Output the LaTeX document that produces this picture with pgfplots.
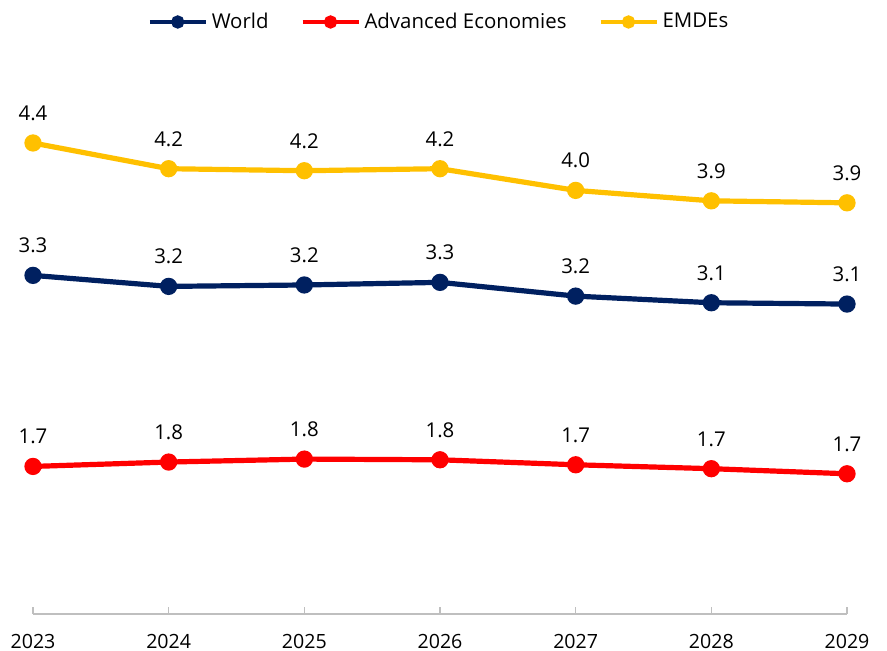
\documentclass[border=0pt]{standalone}
\usepackage{fontspec}
\setmainfont{Open Sans}
\usepackage{pgfplots}
\usepackage{pgfplotstable}
\pgfplotsset{compat=1.18}
\definecolor{world}{HTML}{002060}
\definecolor{adv}{HTML}{FF0000}
\definecolor{emde}{HTML}{FFC000}
\pgfplotstableread{
year val lab
2023 3.327 3.3
2024 3.234 3.2
2025 3.246 3.2
2026 3.268 3.3
2027 3.152 3.2
2028 3.096 3.1
2029 3.085 3.1
}\worlddata
\pgfplotstableread{
year val lab
2023 1.715 1.7
2024 1.752 1.8
2025 1.777 1.8
2026 1.771 1.8
2027 1.729 1.7
2028 1.696 1.7
2029 1.653 1.7
}\advdata
\pgfplotstableread{
year val lab
2023 4.444 4.4
2024 4.227 4.2
2025 4.210 4.2
2026 4.227 4.2
2027 4.044 4.0
2028 3.956 3.9
2029 3.939 3.9
}\emdedata
\begin{document}
\begin{tikzpicture}
\path[use as bounding box] (0,0) rectangle (443.5pt,325.5pt);
\begin{axis}[
  at={(16.5pt,18.5pt)}, anchor=south west,
  scale only axis, width=407pt, height=280.3pt,
  xmin=2023, xmax=2029, ymin=0.47, ymax=5.2,
  hide y axis, axis x line*=bottom,
  axis line style={draw=black!25, line width=0.8pt, -},
  xtick={2023,2024,2025,2026,2027,2028,2029},
  xticklabels={2023,2024,2025,2026,2027,2028,2029},
  tick style={draw=black!25, line width=0.8pt},
  major tick length=3.5pt, tick align=inside,
  xticklabel style={anchor=base, yshift=-17.5pt, font=\fontsize{9.8}{11}\selectfont},
  clip=false,
  nodes near coords, point meta=explicit symbolic,
  nodes near coords style={anchor=base, yshift=11.3pt, font=\fontsize{10.2}{12}\selectfont, text=black},
  every axis plot/.append style={line width=2.6pt, mark=*, mark size=3pt},
  legend style={at={(0.5,1.056)}, anchor=center, draw=none, fill=none,
    legend columns=3, font=\fontsize{10.2}{12}\selectfont,
    /tikz/every even column/.append style={column sep=14pt},
    inner sep=0pt},
  legend image code/.code={\draw[#1, line width=2pt, mark size=2.3pt, mark repeat=2, mark phase=2] plot coordinates {(0pt,0pt) (14pt,0pt) (28pt,0pt)};},
]
\addplot[color=world, mark options={fill=world}] table[x=year, y=val, meta=lab] {\worlddata};
\addlegendentry{World}
\addplot[color=adv, mark options={fill=adv}] table[x=year, y=val, meta=lab] {\advdata};
\addlegendentry{Advanced Economies}
\addplot[color=emde, mark options={fill=emde}] table[x=year, y=val, meta=lab] {\emdedata};
\addlegendentry{EMDEs}
\end{axis}
\end{tikzpicture}
\end{document}
